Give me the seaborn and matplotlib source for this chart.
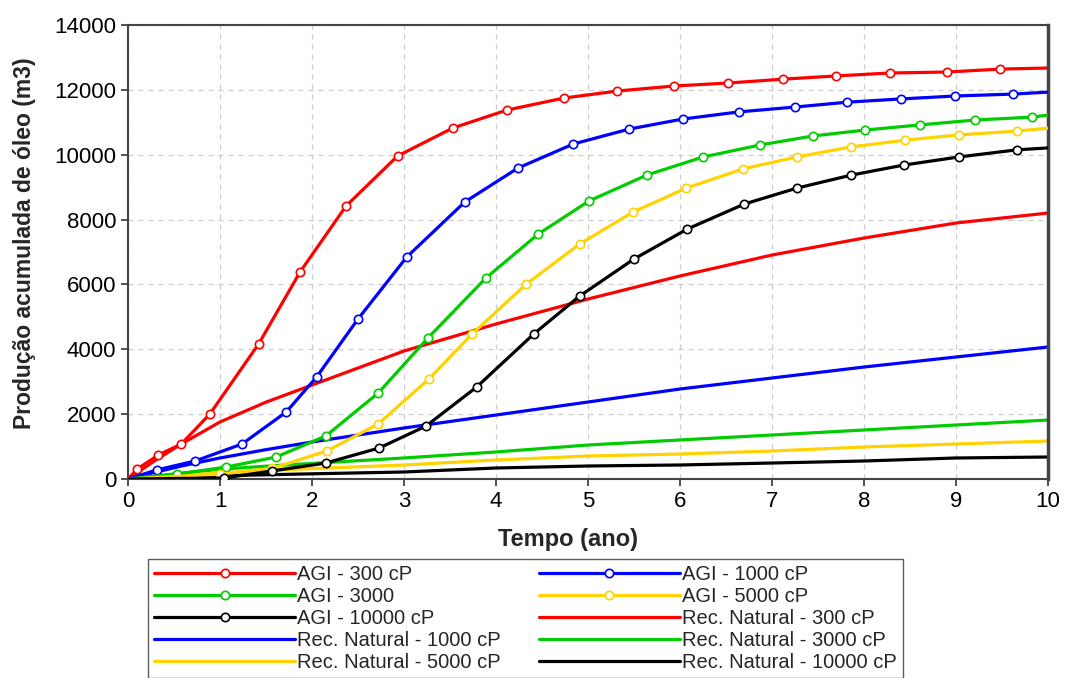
import numpy as np
import pandas as pd
import seaborn as sns
import matplotlib.pyplot as plt
from matplotlib.lines import Line2D

# AGI runs (points = marker positions)
agi300_x = [0, 0.10, 0.33, 0.58, 0.89, 1.42, 1.87, 2.37, 2.93, 3.53, 4.12, 4.74, 5.32, 5.93, 6.52, 7.12, 7.70, 8.28, 8.90, 9.48, 10]
agi300_y = [0, 308, 740, 1080, 2004, 4163, 6383, 8418, 9960, 10823, 11378, 11748, 11964, 12118, 12210, 12330, 12430, 12520, 12550, 12640, 12673]

agi1000_x = [0, 0.31, 0.73, 1.24, 1.72, 2.05, 2.50, 3.03, 3.66, 4.24, 4.84, 5.45, 6.03, 6.64, 7.25, 7.82, 8.40, 8.99, 9.62, 10]
agi1000_y = [0, 278, 555, 1080, 2066, 3145, 4934, 6845, 8541, 9590, 10330, 10792, 11100, 11320, 11470, 11620, 11720, 11810, 11870, 11930]

agi3000_x = [0, 0.53, 1.07, 1.61, 2.15, 2.72, 3.26, 3.89, 4.46, 5.01, 5.64, 6.25, 6.87, 7.45, 8.01, 8.61, 9.21, 9.83, 10]
agi3000_y = [0, 150, 370, 678, 1326, 2652, 4348, 6198, 7555, 8572, 9374, 9929, 10300, 10580, 10760, 10920, 11070, 11160, 11220]

agi5000_x = [0, 1.00, 1.57, 2.16, 2.72, 3.27, 3.74, 4.33, 4.91, 5.49, 6.07, 6.68, 7.27, 7.86, 8.45, 9.03, 9.66, 10]
agi5000_y = [0, 150, 330, 863, 1696, 3083, 4471, 6013, 7246, 8233, 8973, 9560, 9930, 10240, 10450, 10610, 10730, 10820]

agi10000_x = [0, 1.04, 1.57, 2.15, 2.73, 3.24, 3.79, 4.41, 4.91, 5.50, 6.08, 6.70, 7.27, 7.86, 8.43, 9.03, 9.66, 10]
agi10000_y = [0, 30, 250, 493, 956, 1634, 2837, 4471, 5643, 6784, 7709, 8480, 8970, 9370, 9680, 9930, 10150, 10210]

# natural recovery runs
nat_x = [0, 0.3, 0.58, 1.0, 1.5, 2.0, 3.0, 4.0, 5.0, 6.0, 7.0, 8.0, 9.0, 10.0]
nat300 = [0, 580, 1080, 1758, 2370, 2898, 3947, 4780, 5550, 6260, 6907, 7431, 7894, 8202]
nat1000 = [0, 210, 400, 648, 905, 1141, 1573, 1973, 2374, 2775, 3114, 3453, 3762, 4070]
nat3000 = [0, 95, 180, 300, 395, 480, 648, 833, 1048, 1203, 1357, 1511, 1665, 1819]
nat5000 = [0, 55, 110, 190, 260, 320, 432, 586, 709, 771, 863, 987, 1079, 1172]
nat10000 = [0, 30, 60, 100, 130, 160, 216, 339, 401, 432, 493, 555, 648, 678]

red, blue, green, gold, black = '#FF0000', '#0000FF', '#00CC00', '#FFD200', '#000000'

agi = [
    ('AGI - 300 cP', agi300_x, agi300_y, red),
    ('AGI - 1000 cP', agi1000_x, agi1000_y, blue),
    ('AGI - 3000', agi3000_x, agi3000_y, green),
    ('AGI - 5000 cP', agi5000_x, agi5000_y, gold),
    ('AGI - 10000 cP', agi10000_x, agi10000_y, black),
]
nat = [
    ('Rec. Natural - 300 cP', nat300, red),
    ('Rec. Natural - 1000 cP', nat1000, blue),
    ('Rec. Natural - 3000 cP', nat3000, green),
    ('Rec. Natural - 5000 cP', nat5000, gold),
    ('Rec. Natural - 10000 cP', nat10000, black),
]

sns.set_style('white')
plt.rcParams['font.family'] = ['Liberation Sans', 'DejaVu Sans']

fig = plt.figure(figsize=(10.65, 6.78), dpi=100)
ax = fig.add_axes([128 / 1065, 1 - 479 / 678, 920 / 1065, 454 / 678])

lw = 2.3
handles = {}
for name, xs, ys, c in agi:
    df = pd.DataFrame({'t': xs, 'v': ys})
    sns.lineplot(data=df, x='t', y='v', ax=ax, color=c, lw=lw, marker='o',
                 markersize=6, markerfacecolor='white', markeredgecolor=c,
                 markeredgewidth=1.2, markevery=slice(1, len(xs) - 1), zorder=3)
    handles[name] = Line2D([], [], color=c, lw=lw, marker='o', markersize=6,
                           markerfacecolor='white', markeredgecolor=c, markeredgewidth=1.2)
for name, ys, c in nat:
    df = pd.DataFrame({'t': nat_x, 'v': ys})
    sns.lineplot(data=df, x='t', y='v', ax=ax, color=c, lw=lw, zorder=2)
    handles[name] = Line2D([], [], color=c, lw=lw)

ax.set_xlim(0, 10)
ax.set_ylim(0, 14000)
ax.set_xticks(range(0, 11))
ax.set_yticks(range(0, 14001, 2000))
ax.grid(True, ls=(0, (4, 4)), color='#cccccc', lw=0.9)
ax.tick_params(axis='both', direction='out', length=5, width=1.2, labelsize=16,
               colors='#333333', labelcolor='black', left=True, bottom=True)
for s in ['left', 'right', 'top', 'bottom']:
    ax.spines[s].set_color('#444444')
ax.spines['left'].set_linewidth(1.5)
ax.spines['bottom'].set_linewidth(1.5)
ax.spines['top'].set_linewidth(1.5)
ax.spines['right'].set_linewidth(2.5)
ax.set_xlabel('Tempo (ano)', fontsize=17, fontweight='bold')
ax.set_ylabel('Produção acumulada de óleo (m3)', fontsize=16.5, fontweight='bold')
ax.xaxis.set_label_coords(0.478, -0.108)
ax.yaxis.set_label_coords(-0.100, 0.52)

order = ['AGI - 300 cP', 'AGI - 3000', 'AGI - 10000 cP', 'Rec. Natural - 1000 cP', 'Rec. Natural - 5000 cP',
         'AGI - 1000 cP', 'AGI - 5000 cP', 'Rec. Natural - 300 cP', 'Rec. Natural - 3000 cP', 'Rec. Natural - 10000 cP']
leg = fig.legend([handles[k] for k in order], order, loc='upper left',
                 bbox_to_anchor=(148 / 1065, 1 - 559 / 678), ncol=2, fontsize=14.5,
                 handlelength=7.0, handletextpad=0.1, columnspacing=1.9, labelspacing=0.15,
                 borderpad=0.3, borderaxespad=0, numpoints=1, fancybox=False, frameon=True)
leg.get_frame().set_edgecolor('#333333')
leg.get_frame().set_linewidth(1.0)

fig.savefig('out.png', dpi=100)
